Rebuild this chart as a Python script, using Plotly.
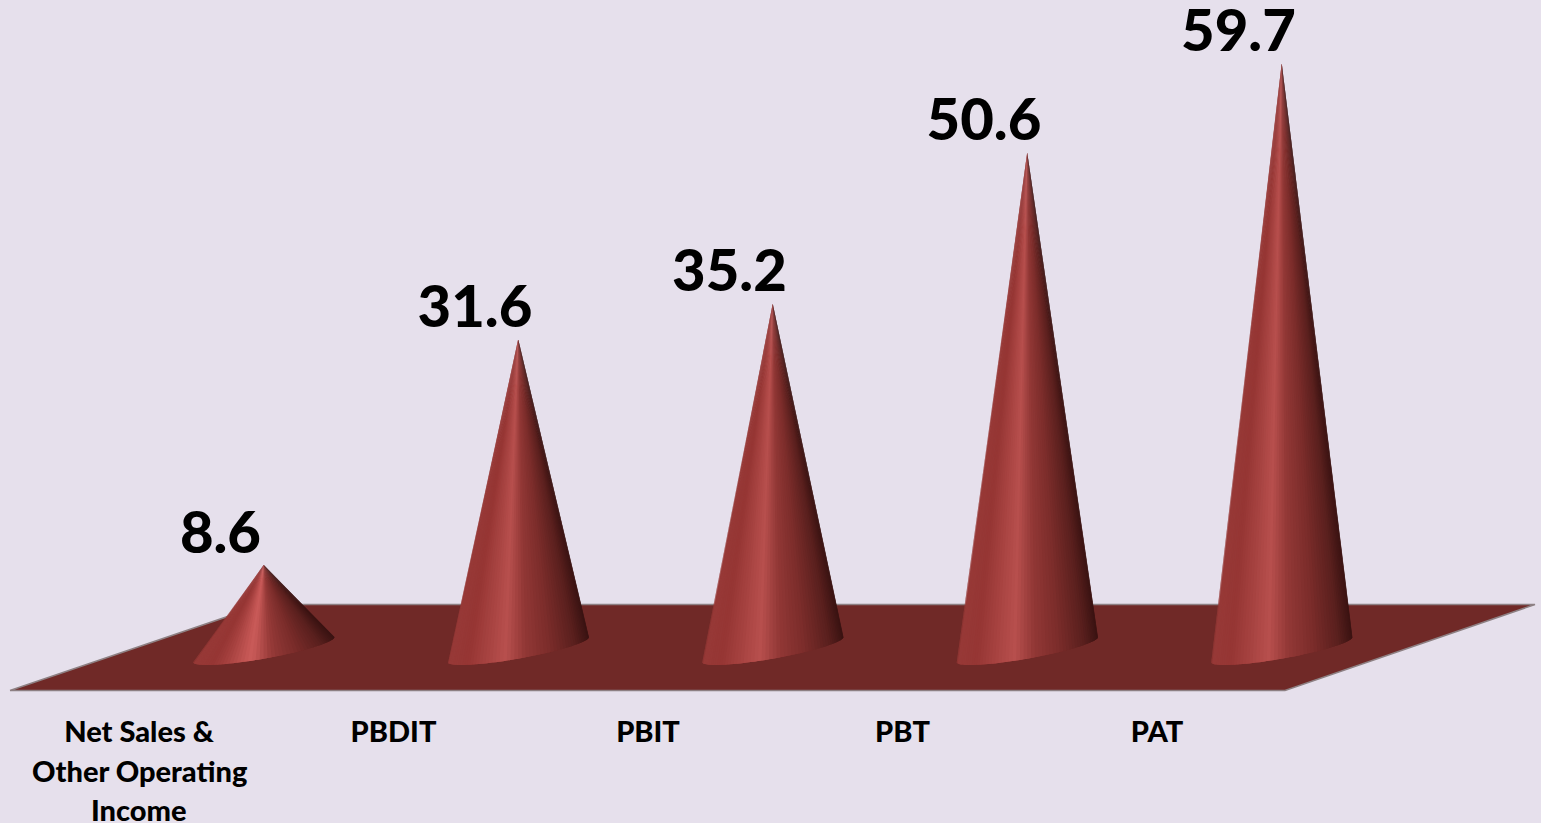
import numpy as np
import plotly.graph_objects as go

categories = ["Net Sales &<br>Other Operating<br>Income", "PBDIT", "PBIT", "PBT", "PAT"]
values = [8.6, 31.6, 35.2, 50.6, 59.7]
value_labels = ["8.6", "31.6", "35.2", "50.6", "59.7"]

BG = "#e6e0ec"
FLOOR = "#702927"
EDGE = "#8d8083"
FONT = "Lato"

# pixel scale of the two axes
PX_X = 254.5
PX_Y = 9.82
X0_PX = 139
Y0_PX = 649.5
PLOT_BOTTOM = 700

# cone is pushed back and to the right of its tick
CONE_SHIFT = 0.49
LABEL_SHIFT = 0.17

# base ellipse, sheared along the floor (pixels)
A, B, H = 42, 57, 15.5

STOPS_U = [0.0, 0.14, 0.41, 0.55, 0.72, 0.90, 1.0]
STOPS_RGB = np.array([
    [152, 58, 56],
    [150, 54, 52],
    [184, 80, 78],
    [146, 56, 54],
    [124, 45, 43],
    [90, 32, 30],
    [58, 19, 18],
])


def shade(u, boost):
    rgb = [np.interp(u, STOPS_U, STOPS_RGB[:, k]) for k in range(3)]
    # small cone catches more light around the highlight
    glow = boost * np.exp(-((u - 0.41) / 0.14) ** 2)
    r, g, b = [min(255, int(c + glow * f)) for c, f in zip(rgb, (1.0, 0.6, 0.6))]
    return f"rgb({r},{g},{b})"


def cone_traces(center, value):
    boost = 18 if value < 15 else 0
    t = np.linspace(-np.pi * 0.95, np.pi * 0.55, 600)
    ex = A * np.cos(t) + B * np.sin(t)
    ey = H * np.sin(t)
    top = value * PX_Y
    bearing = ex / (top - ey)
    i0, i1 = np.argmin(bearing), np.argmax(bearing)
    arc = np.linspace(t[i0], t[i1], 61)
    ax = (A * np.cos(arc) + B * np.sin(arc)) / PX_X + center
    ay = H * np.sin(arc) / PX_Y
    span = ax.max() - ax.min()
    out = []
    for k in range(len(arc) - 1):
        u = ((ax[k] + ax[k + 1]) / 2 - ax.min()) / span
        # each slice runs over the next one so no seam shows
        end = min(k + 3, len(arc))
        xs = [center] + list(ax[k:end]) + [center]
        ys = [value] + list(ay[k:end]) + [value]
        out.append(go.Scatter(
            x=xs, y=ys,
            mode="lines", fill="toself", fillcolor=shade(u, boost),
            line=dict(width=0),
            hoverinfo="skip", showlegend=False,
        ))
    return out


fig = go.Figure()

# floor
fx = [(p - X0_PX) / PX_X for p in (10, 1285, 1535, 263, 10)]
fy = [(Y0_PX - p) / PX_Y for p in (690.5, 690.5, 604.5, 604.5, 690.5)]
fig.add_trace(go.Scatter(
    x=fx, y=fy, mode="lines", fill="toself", fillcolor=FLOOR,
    line=dict(color=EDGE, width=1.5), hoverinfo="skip", showlegend=False,
))

for i, v in enumerate(values):
    fig.add_traces(cone_traces(i + CONE_SHIFT, v))

fig.add_trace(go.Scatter(
    x=[i + CONE_SHIFT - LABEL_SHIFT for i in range(len(values))],
    y=[v - 0.2 for v in values],
    mode="text",
    text=value_labels,
    textposition="top center",
    textfont=dict(family=FONT, size=58, color="black", weight=900),
    cliponaxis=False,
    hoverinfo="skip",
    showlegend=False,
))

# tick labels hold the first line, extra lines sit below at the wider spacing
fig.update_xaxes(
    range=[-X0_PX / PX_X, (1541 - X0_PX) / PX_X],
    tickmode="array",
    tickvals=list(range(len(categories))),
    ticktext=[c.split("<br>")[0] for c in categories],
    tickfont=dict(family=FONT, size=29, color="black", weight=900),
    ticks="outside", ticklen=6, tickcolor="rgba(0,0,0,0)",
    showgrid=False, zeroline=False, showline=False,
)
fig.update_yaxes(
    range=[(Y0_PX - PLOT_BOTTOM) / PX_Y, Y0_PX / PX_Y],
    visible=False,
)

for i, c in enumerate(categories):
    for n, line in enumerate(c.split("<br>")[1:], start=1):
        fig.add_annotation(
            x=i, xref="x", yref="paper",
            y=(PLOT_BOTTOM - (731 + 39 * n)) / PLOT_BOTTOM,
            text=line, showarrow=False,
            xanchor="center", yanchor="middle",
            font=dict(family=FONT, size=29, color="black", weight=900),
        )

fig.update_layout(
    width=1541,
    height=823,
    margin=dict(l=0, r=0, t=0, b=823 - PLOT_BOTTOM),
    paper_bgcolor=BG,
    plot_bgcolor=BG,
    showlegend=False,
)

fig.write_html(
    "out.html",
    config={"displayModeBar": False},
    post_script="document.body.style.margin='0';document.body.style.overflow='hidden';",
)
